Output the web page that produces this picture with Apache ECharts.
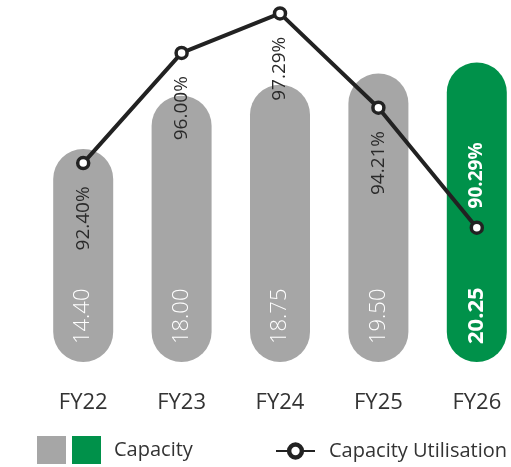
<!DOCTYPE html>
<html>
<head>
<meta charset="utf-8">
<script src="https://cdn.jsdelivr.net/npm/echarts@6/dist/echarts.min.js"></script>
<style>
html,body{margin:0;padding:0;background:#fff;}
#chart{width:511px;height:467px;}
</style>
</head>
<body>
<div id="chart"></div>
<script>
var categories = ['FY22', 'FY23', 'FY24', 'FY25', 'FY26'];
var capacity = [14.40, 18.00, 18.75, 19.50, 20.25];
var utilisation = [92.40, 96.00, 97.29, 94.21, 90.29];
var highlightIndex = 4;

var FONT = '"Open Sans", "Noto Sans", sans-serif';
var GREY = '#A6A6A6';
var GREEN = '#00914A';

var greyData = capacity.map(function (v, i) { return i === highlightIndex ? '-' : v; });
var greenData = capacity.map(function (v, i) { return i === highlightIndex ? v : '-'; });

var barLabel = {
  show: true,
  position: 'insideBottom',
  distance: 18,
  rotate: 90,
  align: 'left',
  verticalAlign: 'middle',
  color: '#fff',
  fontFamily: FONT,
  fontSize: 22,
  fontWeight: 300,
  formatter: function (p) { return p.value.toFixed(2); }
};

var lineData = utilisation.map(function (v, i) {
  if (i === highlightIndex) {
    return {
      value: v,
      label: {
        position: 'top',
        align: 'left',
        color: '#fff',
        fontWeight: 'bold',
        distance: 12
      }
    };
  }
  return v;
});

var chart = echarts.init(document.getElementById('chart'));
chart.setOption({
  animation: false,
  backgroundColor: '#fff',
  grid: { left: 34, right: -15, top: 7, bottom: 105, outerBoundsMode: 'none', containLabel: false },
  legend: [
    {
      left: 37, top: 436, padding: 0,
      itemWidth: 29, itemHeight: 28, itemGap: 6,
      icon: 'rect',
      data: ['CapacityGrey', 'Capacity'],
      formatter: function (n) { return n === 'CapacityGrey' ? '' : n; },
      textStyle: { fontFamily: FONT, fontSize: 20, color: '#333', padding: [8, 0, 0, 8] }
    },
    {
      left: 275, top: 441, padding: 0,
      itemWidth: 39, itemHeight: 16,
      data: [{ name: 'Capacity Utilisation', itemStyle: { borderWidth: 4.5, color: '#fff', borderColor: '#222' } }],
      textStyle: { fontFamily: FONT, fontSize: 20, color: '#333', padding: [0, 0, 0, 9] }
    }
  ],
  xAxis: {
    type: 'category',
    data: categories,
    axisLine: { show: false },
    axisTick: { show: false },
    axisLabel: { margin: 30, fontFamily: FONT, fontSize: 22, color: '#333' }
  },
  yAxis: [
    { type: 'value', min: 0, max: 24, show: false, splitLine: { show: false } },
    { type: 'value', min: 85.9, max: 97.5, show: false, splitLine: { show: false } }
  ],
  series: [
    {
      name: 'CapacityGrey',
      type: 'bar',
      data: greyData,
      barWidth: 60,
      barGap: '-100%',
      itemStyle: { color: GREY, borderRadius: 30 },
      label: barLabel
    },
    {
      name: 'Capacity',
      type: 'bar',
      data: greenData,
      barWidth: 60,
      barGap: '-100%',
      itemStyle: { color: GREEN, borderRadius: 30 },
      label: Object.assign({}, barLabel, { fontWeight: 'bold' })
    },
    {
      name: 'Capacity Utilisation',
      type: 'line',
      yAxisIndex: 1,
      data: lineData,
      symbol: 'circle',
      symbolSize: 11,
      clip: false,
      lineStyle: { color: '#222', width: 4 },
      itemStyle: { color: '#fff', borderColor: '#222', borderWidth: 3.5 },
      label: {
        show: true,
        position: 'bottom',
        distance: 16,
        rotate: 90,
        align: 'right',
        verticalAlign: 'middle',
        color: '#2a2a2a',
        fontFamily: FONT,
        fontSize: 19,
        formatter: function (p) { return p.value.toFixed(2) + '%'; }
      },
      z: 5
    }
  ]
});
</script>
</body>
</html>
